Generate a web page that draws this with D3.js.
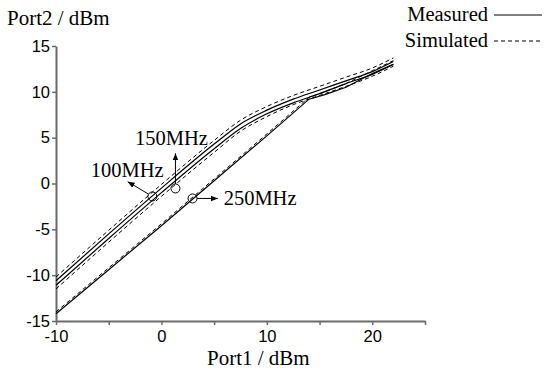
<!DOCTYPE html>
<html>
<head>
<meta charset="utf-8">
<script src="https://cdn.jsdelivr.net/npm/d3@7"></script>
<style>
  body { margin: 0; background: #fff; }
  svg { display: block; }
</style>
</head>
<body>
<div id="chart"></div>
<script>
// datos
const xTicks = [-10, -5, 0, 5, 10, 15, 20, 25];
const xLabels = [-10, 0, 10, 20];
const yTicks = [-15, -10, -5, 0, 5, 10, 15];

const xUpper = [-10, -5, 0, 5, 7.5, 10, 12.5, 15, 17.5, 20, 22];
const meas100 = [-10.6, -5.5, -0.5, 4.3, 6.5, 8.0, 9.2, 10.2, 11.2, 12.2, 13.3];
const sim100 = [-10.2, -5.1, -0.1, 4.7, 6.9, 8.4, 9.6, 10.6, 11.6, 12.6, 13.7];
const meas150 = [-11.1, -6.0, -1.0, 3.8, 6.0, 7.6, 8.8, 9.8, 10.9, 11.9, 13.0];
const sim150 = [-11.5, -6.4, -1.4, 3.4, 5.7, 7.3, 8.6, 9.6, 10.6, 11.7, 12.8];

const xLower = [-10, -5, 0, 5, 10, 14, 15.5, 17.5, 20, 22];
const meas250 = [-14.2, -9.4, -4.6, 0.3, 5.2, 9.2, 9.7, 10.5, 12.0, 13.0];
const sim250 = [-14.0, -9.2, -4.4, 0.5, 5.4, 9.4, 10.0, 10.9, 12.3, 13.4];

// anotaciones: circulo, punta de flecha, texto (en unidades de datos)
const notes = [
  { label: '100MHz', cx: -0.86, cy: -1.41, ax: -3.2, ay: 0.2, tx: -6.7, ty: 0.7 },
  { label: '150MHz', cx: 1.33, cy: -0.54, ax: 1.33, ay: 3.3, tx: -2.5, ty: 4.2 },
  { label: '250MHz', cx: 2.95, cy: -1.63, ax: 5.35, ay: -1.63, tx: 5.9, ty: -2.35 }
];

const width = 550, height = 374;
const svg = d3.select('#chart').append('svg')
  .attr('width', width)
  .attr('height', height);

const x = d3.scaleLinear().domain([-10, 25]).range([56, 425]);
const y = d3.scaleLinear().domain([-15, 15]).range([321, 46]);

const axisColor = '#6b6b6b';
const sans = '"Liberation Sans", Arial, sans-serif';
const serif = '"Liberation Serif", "Times New Roman", serif';

// ejes
const gx = svg.append('g')
  .attr('transform', `translate(0,${y(-15)})`)
  .call(d3.axisBottom(x).tickValues(xTicks).tickSize(4).tickSizeOuter(0)
    .tickFormat(d => xLabels.includes(d) ? String(d) : ''));
const gy = svg.append('g')
  .attr('transform', `translate(${x(-10)},0)`)
  .call(d3.axisLeft(y).tickValues(yTicks).tickSize(4).tickSizeOuter(0)
    .tickFormat(d => String(d)));

[gx, gy].forEach(g => {
  g.select('.domain').attr('stroke', axisColor).attr('stroke-width', 2);
  g.selectAll('.tick line').attr('stroke', axisColor).attr('stroke-width', 1.5);
  g.selectAll('.tick text')
    .attr('fill', '#000')
    .style('font-family', sans)
    .style('font-size', '16.5px');
});
gx.selectAll('.tick text').attr('dy', '0.85em');
gy.selectAll('.tick text').attr('x', -6);

// titulos de ejes
svg.append('text')
  .attr('x', 7).attr('y', 25)
  .style('font-family', serif).style('font-size', '21px')
  .text('Port2 / dBm');
svg.append('text')
  .attr('x', 207).attr('y', 365)
  .style('font-family', serif).style('font-size', '21px')
  .text('Port1 / dBm');

// curvas
const lineSmooth = d3.line()
  .x(d => x(d[0]))
  .y(d => y(d[1]))
  .curve(d3.curveMonotoneX);
const lineStraight = d3.line()
  .x(d => x(d[0]))
  .y(d => y(d[1]));

const series = [
  { xs: xUpper, ys: sim100, dash: true, gen: lineSmooth },
  { xs: xUpper, ys: meas100, dash: false, gen: lineSmooth },
  { xs: xUpper, ys: meas150, dash: false, gen: lineSmooth },
  { xs: xUpper, ys: sim150, dash: true, gen: lineSmooth },
  { xs: xLower, ys: sim250, dash: true, gen: lineStraight },
  { xs: xLower, ys: meas250, dash: false, gen: lineStraight }
];

series.forEach(s => {
  svg.append('path')
    .datum(s.xs.map((v, i) => [v, s.ys[i]]))
    .attr('d', s.gen)
    .attr('fill', 'none')
    .attr('stroke', '#000')
    .attr('stroke-width', s.dash ? 1 : 1.2)
    .attr('stroke-dasharray', s.dash ? '4,3' : null);
});

// flechas
svg.append('defs').append('marker')
  .attr('id', 'arrowhead')
  .attr('viewBox', '0 -5 10 10')
  .attr('refX', 10)
  .attr('refY', 0)
  .attr('markerWidth', 7)
  .attr('markerHeight', 7)
  .attr('orient', 'auto')
  .append('path')
  .attr('d', 'M0,-4L10,0L0,4Z')
  .attr('fill', '#000');

notes.forEach(n => {
  const cx = x(n.cx), cy = y(n.cy);
  const ax = x(n.ax), ay = y(n.ay);
  const r = 4.5;
  const ang = Math.atan2(ay - cy, ax - cx);
  svg.append('circle')
    .attr('cx', cx).attr('cy', cy).attr('r', r)
    .attr('fill', 'none').attr('stroke', '#000').attr('stroke-width', 1);
  svg.append('line')
    .attr('x1', cx + r * Math.cos(ang)).attr('y1', cy + r * Math.sin(ang))
    .attr('x2', ax).attr('y2', ay)
    .attr('stroke', '#000').attr('stroke-width', 1)
    .attr('marker-end', 'url(#arrowhead)');
  svg.append('text')
    .attr('x', x(n.tx)).attr('y', y(n.ty))
    .style('font-family', serif).style('font-size', '20.5px')
    .text(n.label);
});

// leyenda
const legend = [
  { label: 'Measured', y: 21, dash: false },
  { label: 'Simulated', y: 47, dash: true }
];
legend.forEach(l => {
  svg.append('text')
    .attr('x', 488).attr('y', l.y)
    .attr('text-anchor', 'end')
    .style('font-family', serif).style('font-size', '20.5px')
    .text(l.label);
  svg.append('line')
    .attr('x1', 494).attr('x2', 542)
    .attr('y1', l.y - 6).attr('y2', l.y - 6)
    .attr('stroke', '#000')
    .attr('stroke-width', l.dash ? 1 : 1.2)
    .attr('stroke-dasharray', l.dash ? '4,3' : null);
});
</script>
</body>
</html>
